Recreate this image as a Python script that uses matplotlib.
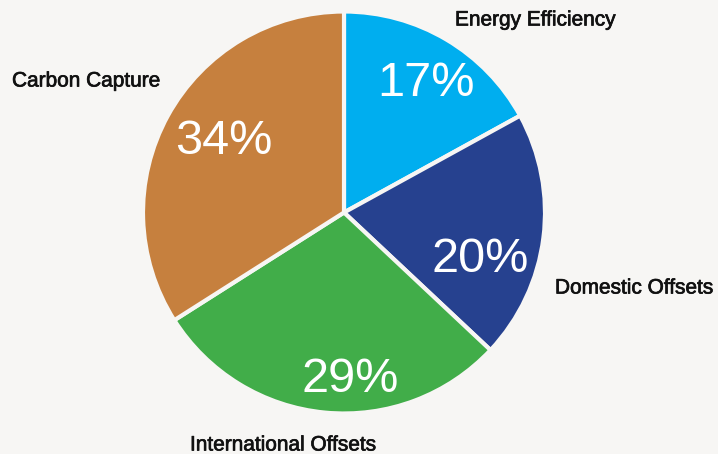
import matplotlib
matplotlib.use("Agg")
import matplotlib.pyplot as plt
import matplotlib.patheffects as pe

categories = ["Energy Efficiency", "Domestic Offsets", "International Offsets", "Carbon Capture"]
values = [17, 20, 29, 34]
colors = ["#00AEEF", "#26418F", "#41AD49", "#C6803E"]

BG = "#F7F6F4"
W, H = 718, 454

fig = plt.figure(figsize=(W / 100, H / 100), dpi=100, facecolor=BG)
ax = fig.add_axes([0, 0, 1, 1])
ax.set_facecolor(BG)

def py(y):
    return H - y

wedges, _ = ax.pie(values, colors=colors, startangle=90, counterclock=False,
                   center=(344, py(212.5)), radius=201, frame=True,
                   wedgeprops=dict(edgecolor=BG, linewidth=3.0))
ax.set_xlim(0, W)
ax.set_ylim(0, H)
ax.axis("off")

font = "Liberation Sans"
# percent labels (pixel centres)
pct_pos = [(426, 79), (480, 254), (350, 374), (224, 137)]
for v, (x, y) in zip(values, pct_pos):
    ax.text(x, py(y), f"{v}%", color="white", fontsize=35, family=font,
            ha="center", va="center_baseline")

# category labels
lab_pos = [(455, 18), (555, 286), (190, 443), (12, 79)]
for c, (x, y) in zip(categories, lab_pos):
    ax.text(x, py(y), c, color="#111111", fontsize=15, family=font,
            ha="left", va="center_baseline",
            path_effects=[pe.withStroke(linewidth=0.5, foreground="#111111")])

fig.savefig("out.png", dpi=100, facecolor=BG)
